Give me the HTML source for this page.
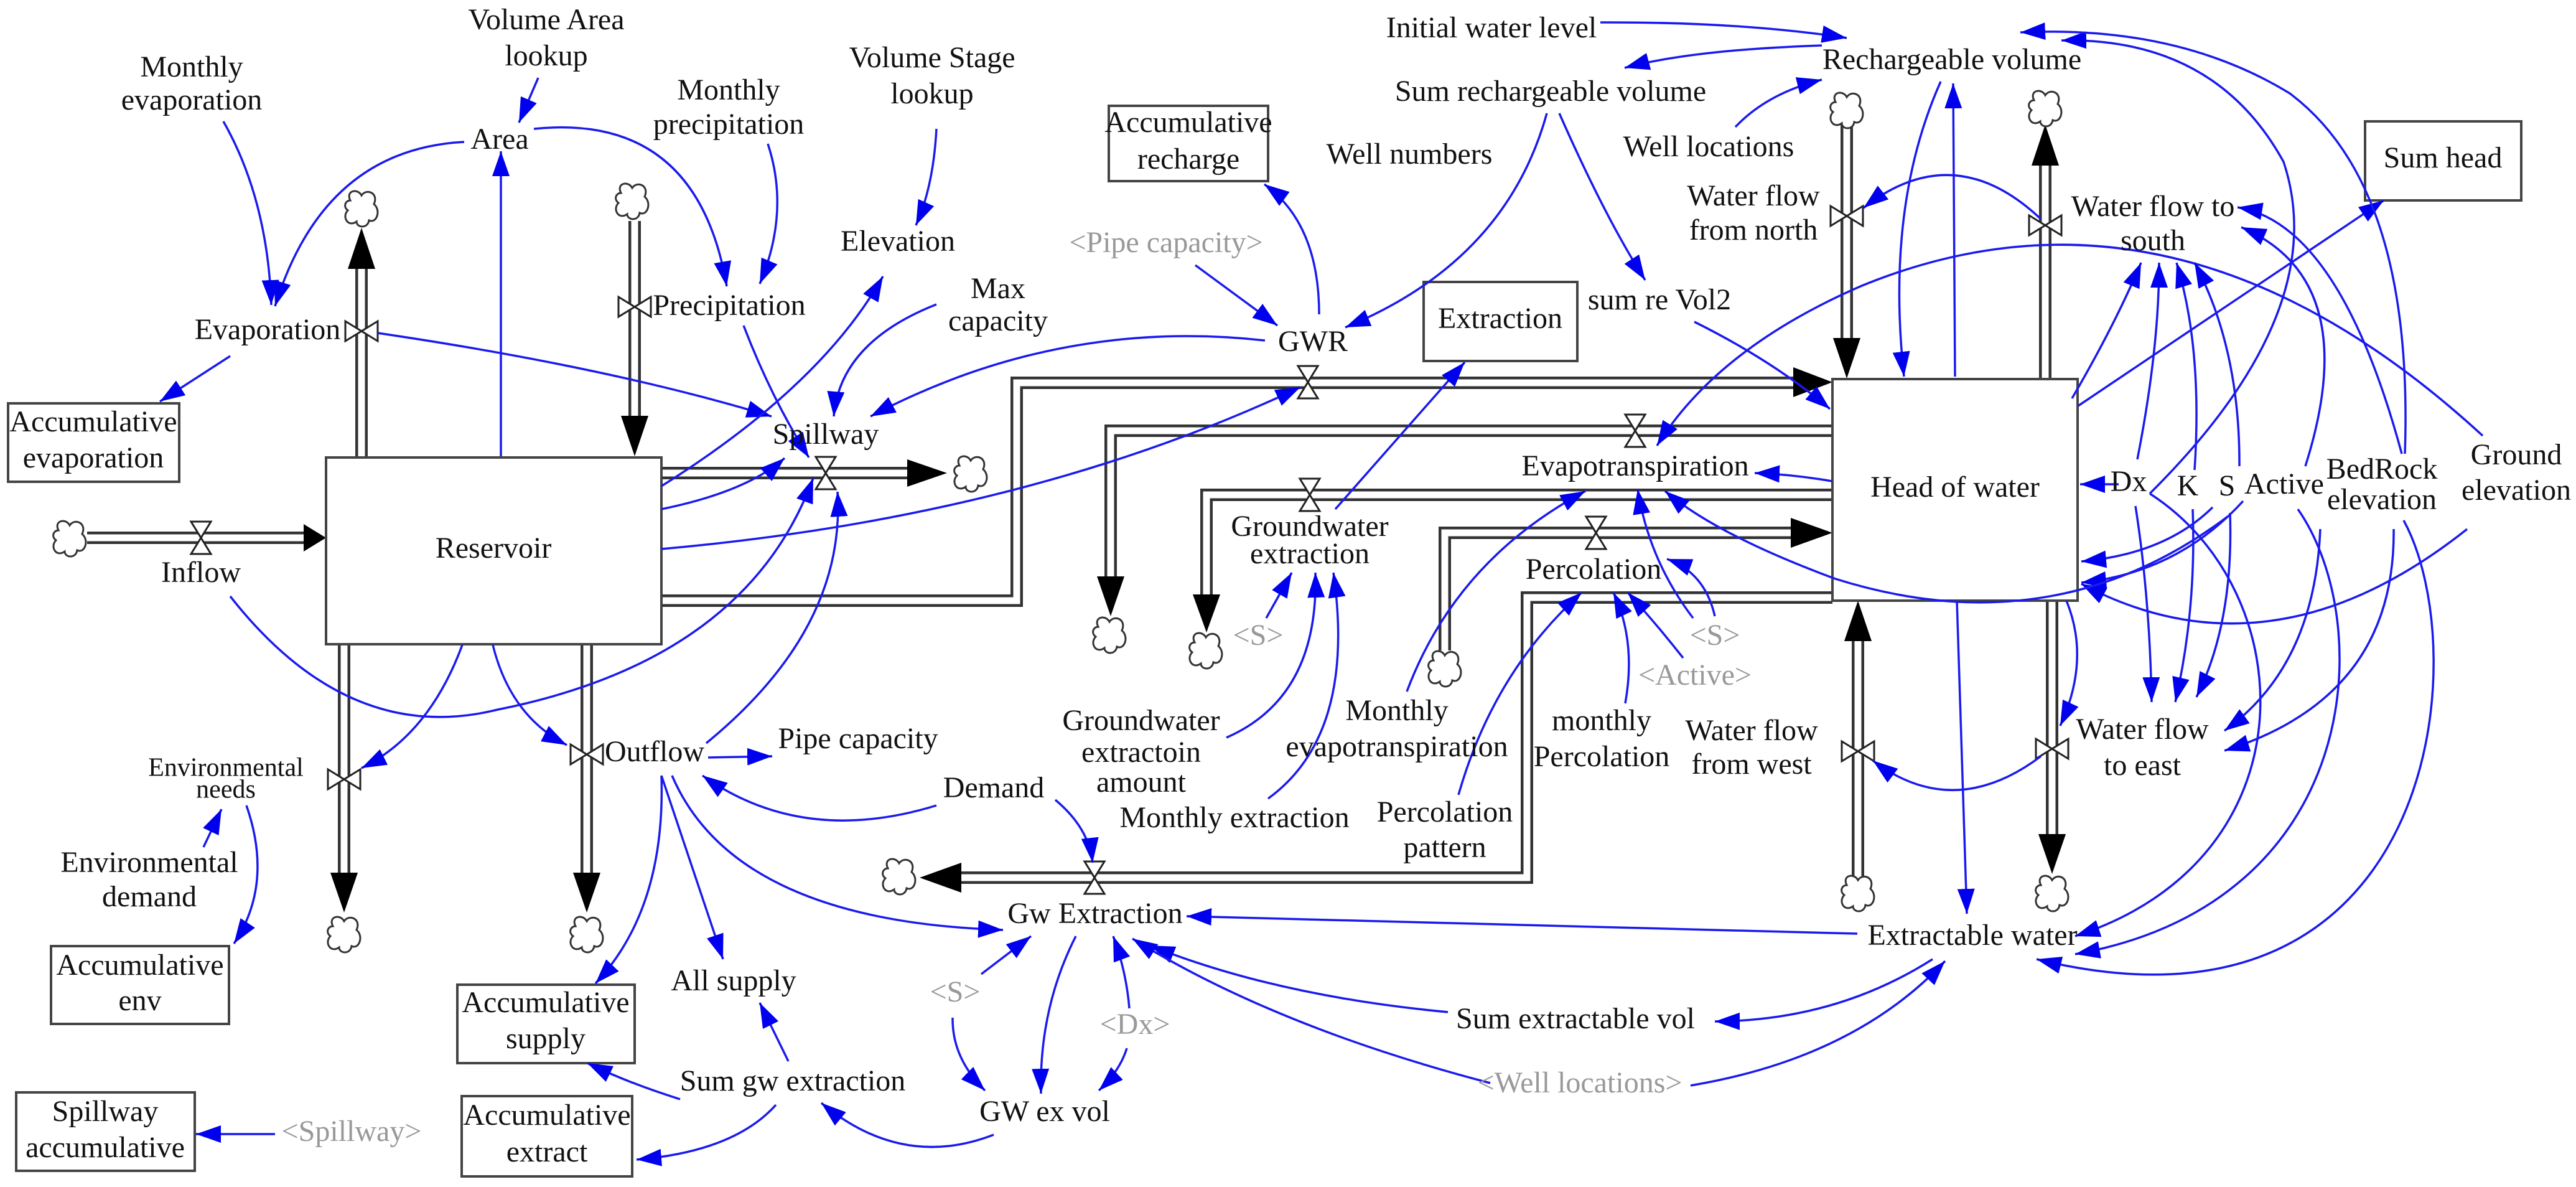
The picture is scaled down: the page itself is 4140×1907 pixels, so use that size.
<!DOCTYPE html>
<html><head><meta charset="utf-8"><style>
html,body{margin:0;padding:0;background:#fff;}
svg{display:block;}
text{font-family:"Liberation Serif",serif;font-size:48px;fill:#111;text-anchor:middle;dominant-baseline:middle;}
.g{fill:#999;}
.s{font-size:42px;}
.c{fill:none;stroke:#1a1aee;stroke-width:3.5;marker-end:url(#ah);}
.pipeO{fill:none;stroke:#333;stroke-width:20;stroke-linejoin:miter;}
.pipeI{fill:none;stroke:#fff;stroke-width:11;stroke-linejoin:miter;}
.box{fill:#fff;stroke:#444;stroke-width:4;}
.cl{fill:#fff;stroke:#333;stroke-width:3;}
.v{fill:#fff;stroke:#222;stroke-width:3;}
</style></head><body>
<svg width="4140" height="1907" viewBox="0 0 4140 1907" xmlns="http://www.w3.org/2000/svg">
<defs>
<marker id="ah" markerUnits="userSpaceOnUse" markerWidth="50" markerHeight="40" refX="40" refY="14" orient="auto">
<path d="M0,0 L40,14 L0,28 Z" fill="#0000ee"/></marker>
<path id="cloud" d="M-18,-14 C-26,-30 -6,-34 0,-22 C8,-34 28,-26 20,-8 C32,2 24,24 12,18 C10,32 -8,30 -8,20 C-22,30 -32,12 -22,2 C-30,-4 -26,-14 -18,-14 Z"/>
<g id="hv"><polygon points="-16,-26 16,-26 0,0" class="v"/><polygon points="-16,26 16,26 0,0" class="v"/></g>
<g id="vv"><polygon points="-26,-16 -26,16 0,0" class="v"/><polygon points="26,-16 26,16 0,0" class="v"/></g>
</defs>

<g>
<path class="pipeO" d="M140,864 H490"/><path class="pipeI" d="M140,864 H490"/>
<polygon points="488,842 524,864 488,886" fill="#000"/>
<path class="pipeO" d="M581,733 V430"/><path class="pipeI" d="M581,735 V430"/>
<polygon points="559,432 581,366 603,432" fill="#000"/>
<path class="pipeO" d="M1020,355 V670"/><path class="pipeI" d="M1020,355 V670"/>
<polygon points="998,668 1020,733 1042,668" fill="#000"/>
<path class="pipeO" d="M1063,760 H1460"/><path class="pipeI" d="M1061,760 H1460"/>
<polygon points="1458,738 1522,760 1458,782" fill="#000"/>
<path class="pipeO" d="M1063,965 H1634 V615 H2890"/><path class="pipeI" d="M1061,965 H1634 V615 H2890"/>
<polygon points="2882,590 2945,614 2882,638" fill="#000"/>
<path class="pipeO" d="M2945,692 H1785 V930"/><path class="pipeI" d="M2947,692 H1785 V930"/>
<polygon points="1763,926 1785,990 1807,926" fill="#000"/>
<path class="pipeO" d="M2945,795 H1939 V955"/><path class="pipeI" d="M2947,795 H1939 V955"/>
<polygon points="1917,955 1939,1016 1961,955" fill="#000"/>
<path class="pipeO" d="M2322,1045 V856 H2885"/><path class="pipeI" d="M2322,1045 V856 H2885"/>
<polygon points="2878,832 2945,856 2878,880" fill="#000"/>
<path class="pipeO" d="M2945,960 H2454 V1410 H1540"/><path class="pipeI" d="M2947,960 H2454 V1410 H1540"/>
<polygon points="1545,1386 1478,1410 1545,1434" fill="#000"/>
<path class="pipeO" d="M553,1035 V1405"/><path class="pipeI" d="M553,1033 V1405"/>
<polygon points="531,1402 553,1466 575,1402" fill="#000"/>
<path class="pipeO" d="M943,1035 V1405"/><path class="pipeI" d="M943,1033 V1405"/>
<polygon points="921,1402 943,1466 965,1402" fill="#000"/>
<path class="pipeO" d="M2968,200 V545"/><path class="pipeI" d="M2968,200 V545"/>
<polygon points="2946,543 2968,608 2990,543" fill="#000"/>
<path class="pipeO" d="M3287,608 V265"/><path class="pipeI" d="M3287,610 V265"/>
<polygon points="3265,266 3287,200 3309,266" fill="#000"/>
<path class="pipeO" d="M2986,1410 V1030"/><path class="pipeI" d="M2986,1410 V1030"/>
<polygon points="2964,1030 2986,965 3008,1030" fill="#000"/>
<path class="pipeO" d="M3298,965 V1343"/><path class="pipeI" d="M3298,963 V1343"/>
<polygon points="3276,1340 3298,1404 3320,1340" fill="#000"/>
</g>

<g class="cl">
<use href="#cloud" x="112" y="866"/><use href="#cloud" x="581" y="336"/><use href="#cloud" x="1016" y="324"/>
<use href="#cloud" x="1560" y="762"/><use href="#cloud" x="1783" y="1021"/><use href="#cloud" x="1938" y="1046"/>
<use href="#cloud" x="2322" y="1075"/><use href="#cloud" x="1445" y="1409"/><use href="#cloud" x="553" y="1502"/>
<use href="#cloud" x="943" y="1502"/><use href="#cloud" x="2968" y="178"/><use href="#cloud" x="3287" y="175"/>
<use href="#cloud" x="2986" y="1436"/><use href="#cloud" x="3298" y="1436"/>
</g>

<rect class="box" x="524" y="735" width="539" height="300"/>
<rect class="box" x="2945" y="609" width="394" height="356"/>
<rect class="box" x="1782" y="170" width="256" height="121"/>
<rect class="box" x="13" y="648" width="275" height="126"/>
<rect class="box" x="2288" y="453" width="247" height="127"/>
<rect class="box" x="3801" y="195" width="251" height="127"/>
<rect class="box" x="82" y="1520" width="286" height="125"/>
<rect class="box" x="735" y="1582" width="285" height="126"/>
<rect class="box" x="26" y="1755" width="287" height="126"/>
<rect class="box" x="742" y="1761" width="274" height="129"/>

<use href="#hv" x="323" y="864"/><use href="#vv" x="581" y="532"/><use href="#vv" x="1020" y="493"/>
<use href="#hv" x="1327" y="760"/><use href="#hv" x="2102" y="614"/><use href="#hv" x="2628" y="692"/>
<use href="#hv" x="2105" y="795"/><use href="#hv" x="2565" y="856"/><use href="#hv" x="1759" y="1410"/>
<use href="#vv" x="553" y="1252"/><use href="#vv" x="943" y="1212"/><use href="#vv" x="2968" y="347"/>
<use href="#vv" x="3287" y="362"/><use href="#vv" x="2986" y="1207"/><use href="#vv" x="3298" y="1203"/>

<g>
<path class="c" d="M865,125 L834,197"/>
<path class="c" d="M359,195 Q430,320 436,490"/>
<path class="c" d="M746,228 Q520,240 442,492"/>
<path class="c" d="M858,207 Q1120,180 1168,460"/>
<path class="c" d="M1234,231 Q1270,340 1221,456"/>
<path class="c" d="M1505,207 Q1500,300 1472,362"/>
<path class="c" d="M805,733 L805,243"/>
<path class="c" d="M607,535 Q980,590 1240,669"/>
<path class="c" d="M1195,523 Q1240,640 1300,735"/>
<path class="c" d="M1063,781 Q1320,620 1419,444"/>
<path class="c" d="M1505,489 Q1350,550 1340,669"/>
<path class="c" d="M2033,547 Q1700,510 1399,669"/>
<path class="c" d="M1063,818 Q1200,790 1261,736"/>
<path class="c" d="M1063,882 Q1650,830 2090,622"/>
<path class="c" d="M370,958 Q560,1200 800,1140 Q1200,1060 1307,768"/>
<path class="c" d="M1135,1194 Q1360,1010 1346,790"/>
<path class="c" d="M370,572 L257,645"/>
<path class="c" d="M2120,505 Q2120,360 2032,296"/>
<path class="c" d="M1921,426 L2053,523"/>
<path class="c" d="M743,1036 Q690,1180 581,1234"/>
<path class="c" d="M792,1036 Q820,1150 911,1197"/>
<path class="c" d="M1138,1217 L1241,1215"/>
<path class="c" d="M327,1361 L356,1300"/>
<path class="c" d="M396,1294 Q440,1420 376,1516"/>
<path class="c" d="M1505,1294 Q1290,1360 1129,1246"/>
<path class="c" d="M1696,1285 Q1750,1330 1756,1386"/>
<path class="c" d="M1080,1246 Q1180,1480 1612,1494"/>
<path class="c" d="M1063,1246 L1162,1541"/>
<path class="c" d="M1063,1246 Q1070,1460 957,1580"/>
<path class="c" d="M1267,1705 L1221,1611"/>
<path class="c" d="M1093,1766 Q1010,1740 944,1708"/>
<path class="c" d="M1247,1775 Q1180,1850 1023,1863"/>
<path class="c" d="M1597,1823 Q1450,1880 1320,1772"/>
<path class="c" d="M442,1822 L315,1822"/>
<path class="c" d="M1577,1565 L1657,1504"/>
<path class="c" d="M1531,1635 Q1530,1700 1583,1752"/>
<path class="c" d="M1729,1504 Q1670,1620 1673,1757"/>
<path class="c" d="M1815,1620 Q1810,1560 1789,1504"/>
<path class="c" d="M1811,1684 Q1800,1720 1766,1752"/>
<path class="c" d="M2985,1500 L1907,1472"/>
<path class="c" d="M2327,1626 Q2050,1600 1848,1519"/>
<path class="c" d="M2395,1740 Q2050,1650 1820,1508"/>
<path class="c" d="M3106,1541 Q2950,1640 2756,1641"/>
<path class="c" d="M2717,1744 Q2980,1700 3126,1544"/>
<path class="c" d="M3145,965 L3161,1468"/>
<path class="c" d="M2572,36 Q2800,35 2968,61"/>
<path class="c" d="M2928,73 Q2720,80 2611,109"/>
<path class="c" d="M2789,204 Q2840,150 2928,128"/>
<path class="c" d="M2486,182 Q2420,420 2162,526"/>
<path class="c" d="M2506,182 Q2580,350 2644,450"/>
<path class="c" d="M2723,517 Q2850,580 2941,657"/>
<path class="c" d="M3119,131 Q3030,330 3060,605"/>
<path class="c" d="M3142,605 L3139,134"/>
<path class="c" d="M2146,818 L2354,582"/>
<path class="c" d="M2944,773 Q2880,762 2820,760"/>
<path class="c" d="M2261,1111 Q2340,900 2548,789"/>
<path class="c" d="M1971,1185 Q2120,1120 2114,920"/>
<path class="c" d="M2038,1283 Q2180,1180 2143,920"/>
<path class="c" d="M2035,993 L2076,920"/>
<path class="c" d="M2344,1277 Q2400,1080 2542,952"/>
<path class="c" d="M2612,1130 Q2630,1030 2593,952"/>
<path class="c" d="M2705,1057 Q2660,1000 2616,952"/>
<path class="c" d="M2721,993 Q2650,900 2632,786"/>
<path class="c" d="M2756,990 Q2740,920 2679,898"/>
<path class="c" d="M3990,700 Q3500,250 2990,460 Q2760,560 2663,716"/>
<path class="c" d="M3330,640 Q3400,520 3441,422"/>
<path class="c" d="M3435,738 Q3470,560 3470,422"/>
<path class="c" d="M3527,755 Q3540,560 3498,422"/>
<path class="c" d="M3599,749 Q3600,560 3527,422"/>
<path class="c" d="M3340,652 L3831,322"/>
<path class="c" d="M3860,729 Q3760,360 3596,333"/>
<path class="c" d="M3705,749 Q3800,450 3602,365"/>
<path class="c" d="M3455,793 Q3750,500 3670,260 Q3560,60 3313,65"/>
<path class="c" d="M3865,729 Q3880,300 3680,150 Q3500,40 3247,52"/>
<path class="c" d="M3405,778 L3343,778"/>
<path class="c" d="M3556,815 Q3480,890 3345,902"/>
<path class="c" d="M3605,805 Q3500,920 3345,936"/>
<path class="c" d="M3965,850 Q3650,1100 3345,938"/>
<path class="c" d="M3580,830 Q3300,1040 2950,930 Q2760,860 2676,789"/>
<path class="c" d="M3432,813 Q3455,960 3458,1128"/>
<path class="c" d="M3524,818 Q3530,980 3496,1128"/>
<path class="c" d="M3584,824 Q3590,1000 3530,1120"/>
<path class="c" d="M3729,850 Q3720,1070 3575,1174"/>
<path class="c" d="M3847,850 Q3850,1120 3575,1206"/>
<path class="c" d="M3455,793 C3700,950 3720,1380 3335,1504"/>
<path class="c" d="M3693,818 C3820,1000 3800,1450 3335,1533"/>
<path class="c" d="M3863,836 C3980,1050 3920,1700 3273,1541"/>
<path class="c" d="M3321,965 Q3360,1060 3311,1166"/>
<path class="c" d="M3280,1215 Q3140,1320 3010,1222"/>
<path class="c" d="M3280,352 Q3140,220 2995,334"/>
</g>

<g>
<text x="878" y="36">Volume Area</text><text x="878" y="94">lookup</text>
<text x="308" y="112">Monthly</text><text x="308" y="165">evaporation</text>
<text x="803" y="228">Area</text>
<text x="1171" y="149">Monthly</text><text x="1171" y="204">precipitation</text>
<text x="1498" y="97">Volume Stage</text><text x="1498" y="155">lookup</text>
<text x="1910" y="201">Accumulative</text><text x="1910" y="260">recharge</text>
<text x="1443" y="392">Elevation</text>
<text x="1874" y="394" class="g">&lt;Pipe capacity&gt;</text>
<text x="1604" y="468">Max</text><text x="1604" y="520">capacity</text>
<text x="1172" y="495">Precipitation</text>
<text x="430" y="534">Evaporation</text>
<text x="150" y="682">Accumulative</text><text x="150" y="740">evaporation</text>
<text x="1327" y="702">Spillway</text>
<text x="2110" y="553">GWR</text>
<text x="323" y="924">Inflow</text>
<text x="793" y="885">Reservoir</text>
<text x="2411" y="516">Extraction</text>
<text x="2397" y="49">Initial water level</text>
<text x="3137" y="100">Rechargeable volume</text>
<text x="2492" y="151">Sum rechargeable volume</text>
<text x="2265" y="252">Well numbers</text>
<text x="2746" y="240">Well locations</text>
<text x="2818" y="319">Water flow</text><text x="2818" y="374">from north</text>
<text x="3460" y="336">Water flow to</text><text x="3460" y="391">south</text>
<text x="3926" y="258">Sum head</text>
<text x="2667" y="486">sum re Vol2</text>
<text x="3142" y="787">Head of water</text>
<text x="2628" y="753">Evapotranspiration</text>
<text x="2105" y="850">Groundwater</text><text x="2105" y="894">extraction</text>
<text x="2561" y="919">Percolation</text>
<text x="3421" y="778">Dx</text><text x="3516" y="785">K</text><text x="3579" y="785">S</text>
<text x="3671" y="782">Active</text>
<text x="3828" y="758">BedRock</text><text x="3828" y="807">elevation</text>
<text x="4044" y="735">Ground</text><text x="4044" y="792">elevation</text>
<text x="2022" y="1025" class="g">&lt;S&gt;</text>
<text x="2756" y="1025" class="g">&lt;S&gt;</text>
<text x="2724" y="1089" class="g">&lt;Active&gt;</text>
<text x="2574" y="1162">monthly</text><text x="2574" y="1220">Percolation</text>
<text x="2815" y="1178">Water flow</text><text x="2815" y="1232">from west</text>
<text x="3443" y="1176">Water flow</text><text x="3443" y="1234">to east</text>
<text x="1834" y="1162">Groundwater</text><text x="1834" y="1213">extractoin</text><text x="1834" y="1261">amount</text>
<text x="2245" y="1146">Monthly</text><text x="2245" y="1204">evapotranspiration</text>
<text x="1984" y="1318">Monthly extraction</text>
<text x="2322" y="1309">Percolation</text><text x="2322" y="1366">pattern</text>
<text x="1597" y="1270">Demand</text>
<text x="1052" y="1212">Outflow</text>
<text x="1379" y="1191">Pipe capacity</text>
<text x="363" y="1237" class="s">Environmental</text><text x="363" y="1272" class="s">needs</text>
<text x="240" y="1390">Environmental</text><text x="240" y="1445">demand</text>
<text x="225" y="1555">Accumulative</text><text x="225" y="1612">env</text>
<text x="877" y="1615">Accumulative</text><text x="877" y="1673">supply</text>
<text x="1179" y="1580">All supply</text>
<text x="1760" y="1472">Gw Extraction</text>
<text x="1535" y="1598" class="g">&lt;S&gt;</text>
<text x="1824" y="1650" class="g">&lt;Dx&gt;</text>
<text x="1274" y="1741">Sum gw extraction</text>
<text x="1679" y="1790">GW ex vol</text>
<text x="169" y="1790">Spillway</text><text x="169" y="1848">accumulative</text>
<text x="565" y="1822" class="g">&lt;Spillway&gt;</text>
<text x="879" y="1796">Accumulative</text><text x="879" y="1855">extract</text>
<text x="3170" y="1507">Extractable water</text>
<text x="2532" y="1641">Sum extractable vol</text>
<text x="2539" y="1744" class="g">&lt;Well locations&gt;</text>
</g>
</svg>
</body></html>
